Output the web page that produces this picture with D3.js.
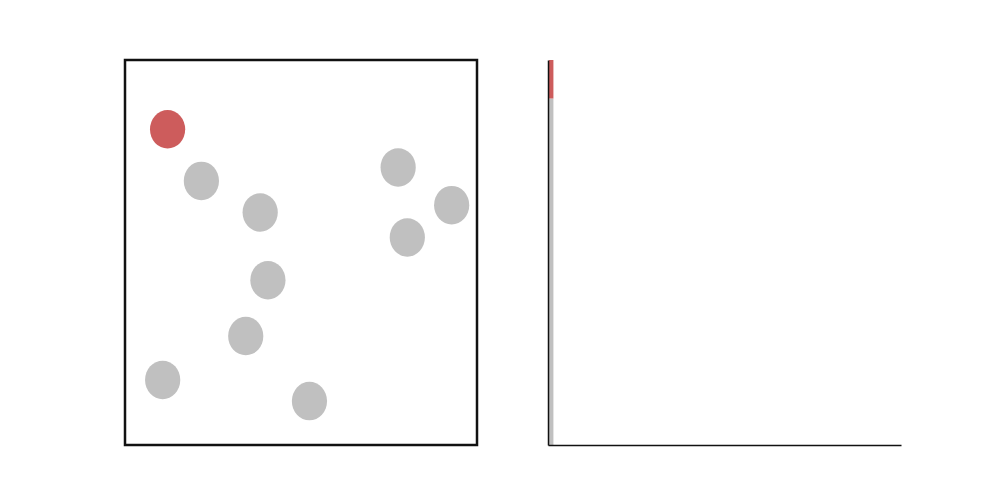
<!DOCTYPE html>
<html><head><meta charset="utf-8">
<script src="https://cdn.jsdelivr.net/npm/d3@7"></script>
<style>html,body{margin:0;padding:0;background:#fff;}</style>
</head><body>
<svg id="chart" width="1000" height="500"></svg>
<script>
// agent positions (data units, 0..1), status
const agentX = [0.121, 0.217, 0.384, 0.776, 0.928, 0.802, 0.406, 0.343, 0.107, 0.524];
const agentY = [0.820, 0.686, 0.604, 0.721, 0.623, 0.539, 0.428, 0.283, 0.169, 0.114];
const agentStatus = ["infected","healthy","healthy","healthy","healthy","healthy","healthy","healthy","healthy","healthy"];
const agentRadius = 0.05;
// time series counts
const steps = [0];
const infectedCounts = [1];
const healthyCounts = [9];
const maxSteps = 80;

const colors = {infected: "#cd5c5c", healthy: "#c0c0c0"};
const svg = d3.select("#chart");

// left panel
const x = d3.scaleLinear().domain([0,1]).range([125,477]);
const y = d3.scaleLinear().domain([0,1]).range([445,60]);
const agents = agentX.map((v,i)=>({x:v,y:agentY[i],s:agentStatus[i]}));
svg.append("g").selectAll("ellipse").data(agents).join("ellipse")
  .attr("cx", d=>x(d.x)).attr("cy", d=>y(d.y))
  .attr("rx", x(agentRadius)-x(0)).attr("ry", y(0)-y(agentRadius))
  .attr("fill", d=>colors[d.s]);
svg.append("rect").attr("x",x(0)).attr("y",y(1))
  .attr("width",x(1)-x(0)).attr("height",y(0)-y(1))
  .attr("fill","none").attr("stroke","#111").attr("stroke-width",2.5);

// right panel
const x2 = d3.scaleLinear().domain([0,maxSteps]).range([548,901]);
const y2 = d3.scaleLinear().domain([0,agentX.length]).range([445,60]);
const rows = steps.map((s,i)=>({step:s, infected:infectedCounts[i], healthy:healthyCounts[i]}));
const stack = d3.stack().keys(["healthy","infected"])(rows);
const g2 = svg.append("g");
stack.forEach(layer=>{
  g2.selectAll(null).data(layer).join("rect")
    .attr("x", d=>x2(d.data.step)+1)
    .attr("width", x2(1)-x2(0))
    .attr("y", d=>y2(d[1]))
    .attr("height", d=>y2(d[0])-y2(d[1]))
    .attr("fill", colors[layer.key]);
});
const axG = svg.append("g");
axG.append("g").attr("transform","translate(0,445)")
  .call(d3.axisBottom(x2).ticks(0).tickSize(0).tickFormat(""))
  .call(g=>g.select(".domain").attr("stroke","#111").attr("stroke-width",1.5));
axG.append("g").attr("transform","translate(548,0)")
  .call(d3.axisLeft(y2).ticks(0).tickSize(0).tickFormat(""))
  .call(g=>g.select(".domain").attr("stroke","#111").attr("stroke-width",1.5));
</script>
</body></html>
